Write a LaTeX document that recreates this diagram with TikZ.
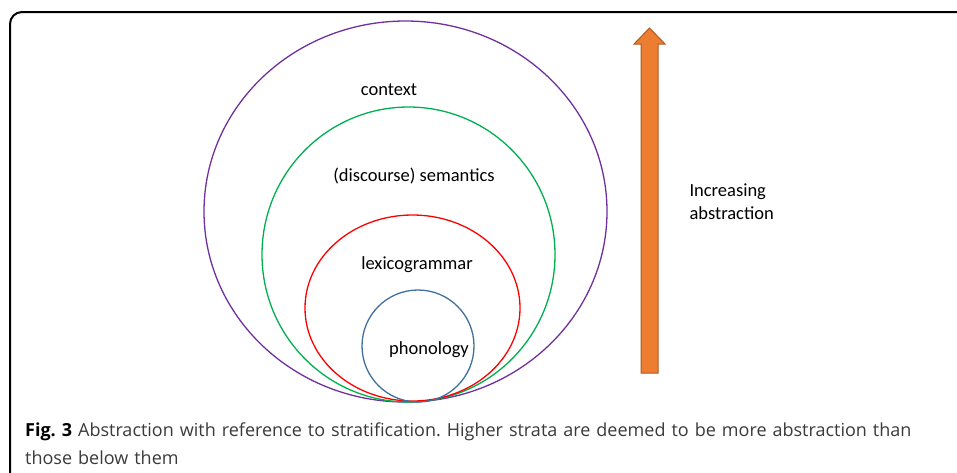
\documentclass[tikz,border=0pt]{standalone}
\usepackage{fontspec}
\setmainfont{Carlito}
\newfontfamily\captionfont{Open Sans}
\frenchspacing
\definecolor{ctxpurple}{HTML}{7030A0}
\definecolor{semgreen}{HTML}{00B050}
\definecolor{lexred}{HTML}{FF0000}
\definecolor{phonblue}{HTML}{41719C}
\definecolor{arroworange}{HTML}{ED7D31}
\definecolor{arrowedge}{HTML}{AE5A21}
\definecolor{captiongray}{HTML}{3A3A3A}
\tikzset{
  stratum/.style={line width=1.3pt},
  label text/.style={font=\fontsize{18.5}{23}\selectfont},
}
\begin{document}
\begin{tikzpicture}[x=1pt,y=-1pt]
		\useasboundingbox (0,0) rectangle (957,472);
		\draw[line width=2pt,rounded corners=12pt] (10,480)--(10,12)--(965,12);
		% strata
		\draw[stratum,ctxpurple] (405.5,211.5) ellipse [x radius=201.5,y radius=190.5];
		\draw[stratum,semgreen] (408.5,254.5) ellipse [x radius=146.5,y radius=147.5];
		\draw[stratum,lexred] (412.5,308) ellipse [x radius=107.5,y radius=93];
		\draw[stratum,phonblue] (418,346) ellipse [x radius=56,y radius=56];
		\path
		(389,90)  node[label text]  (context) {context}
		(414,176) node[label text]  (semantics) {(discourse) semantics}
		(417,265) node[label text]  (lexgram) {lexicogrammar}
		(429,350) node[label text]  (phon) {phonology}
		(686,202) node[label text,anchor=west,align=left] (abstr) {Increasing\\abstraction}
		;
		% arrow
		\draw[arrowedge,fill=arroworange,line width=1pt]
		(641,373)--(641,44)--(634,44)--(649.5,28)--(665,44)--(658,44)--(658,373)--cycle;
		% caption
		\node[anchor=north west,align=left,text width=905pt,inner sep=0pt,
		font=\captionfont\fontsize{18}{28}\selectfont,text=captiongray] (caption) at (25,423)
		{\textbf{\color{black}Fig. 3} Abstraction with reference to stratification. Higher strata are deemed to be more abstraction than those below them};
		\end{tikzpicture}
\end{document}
